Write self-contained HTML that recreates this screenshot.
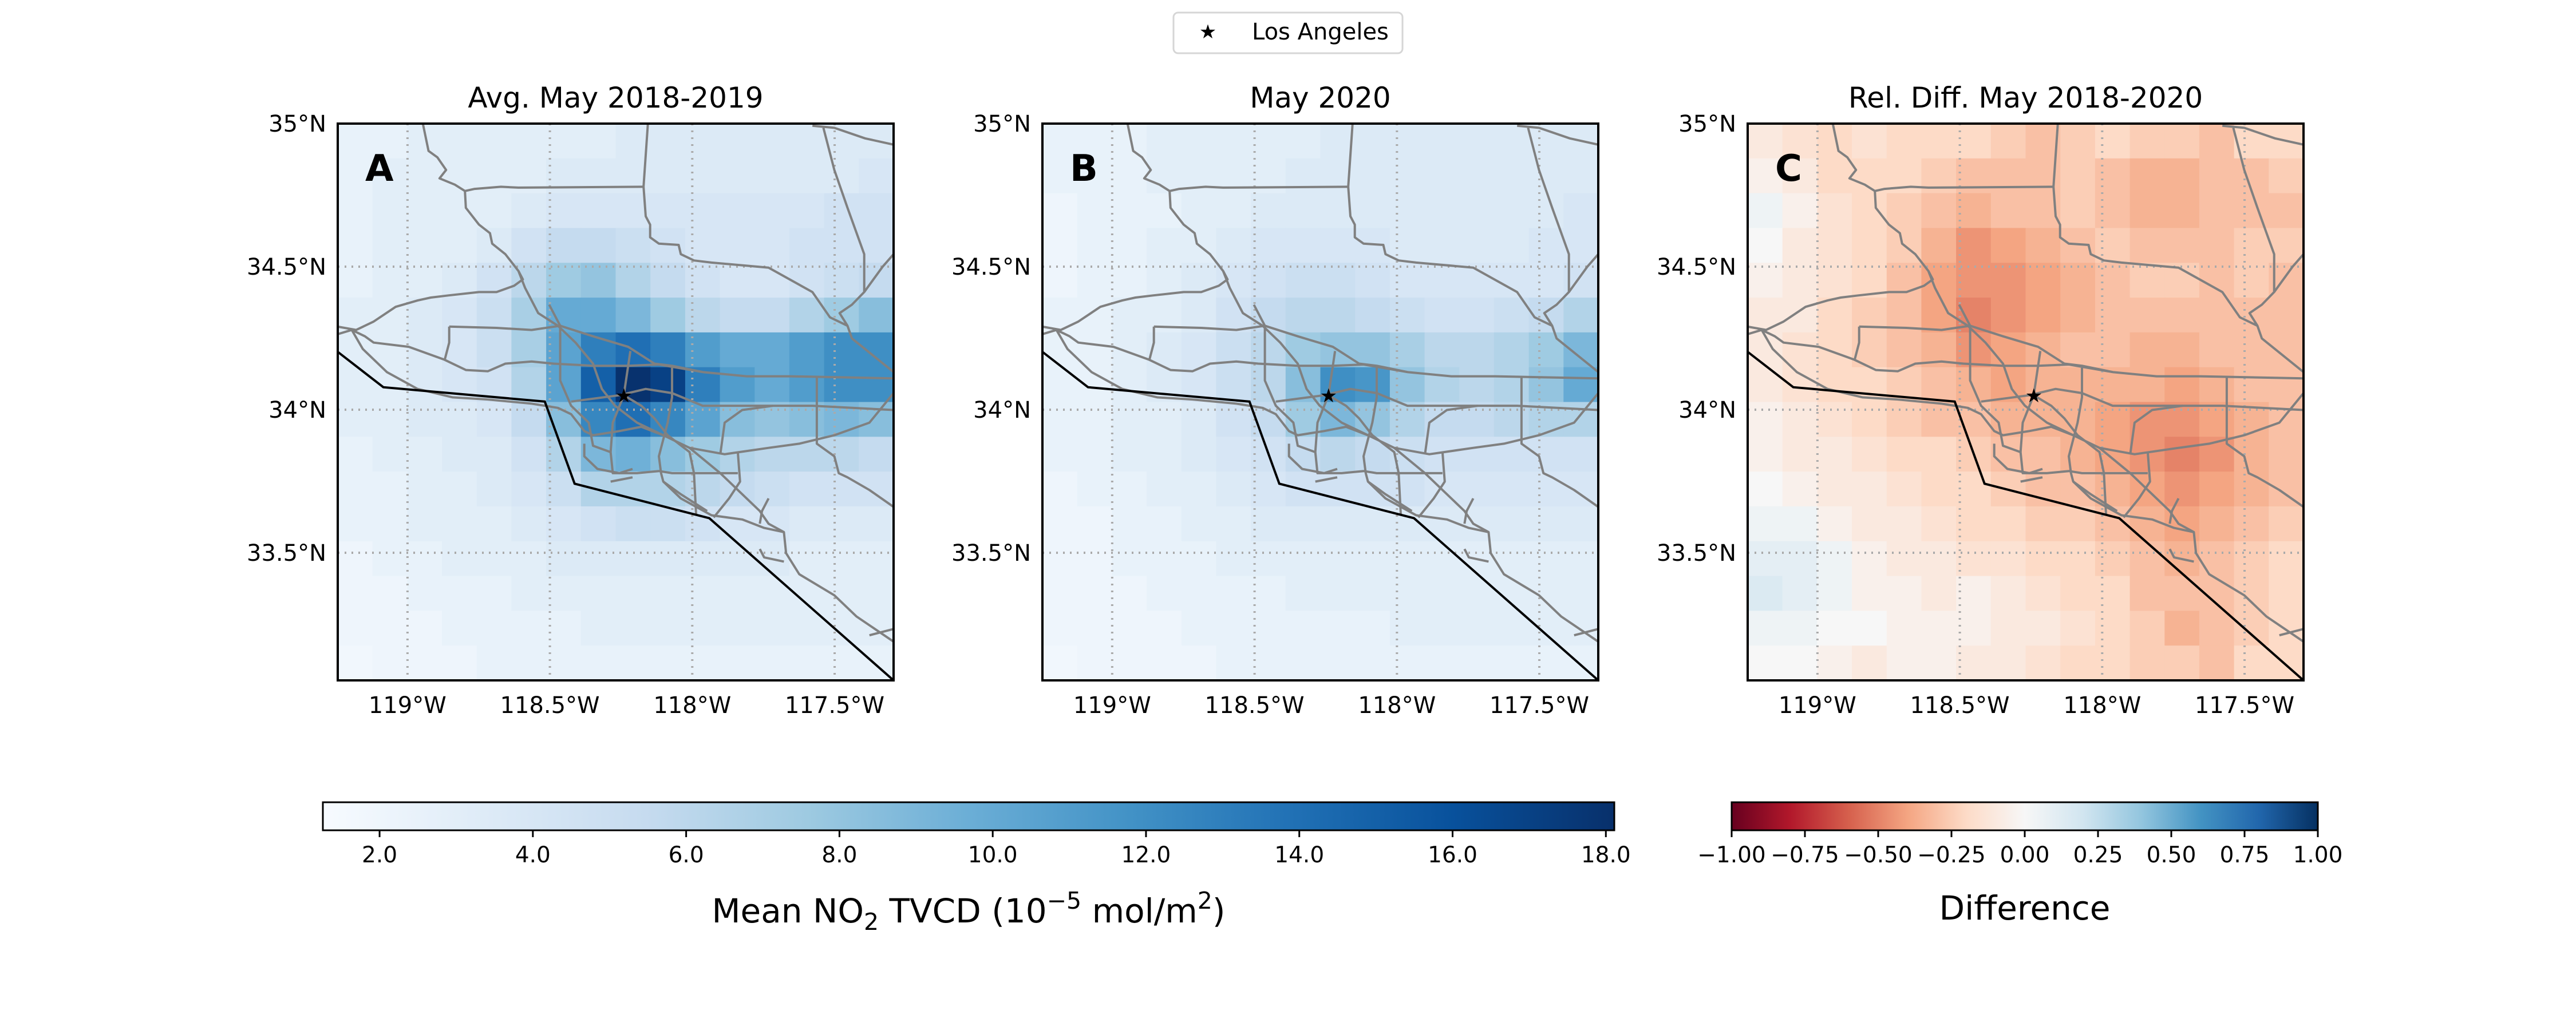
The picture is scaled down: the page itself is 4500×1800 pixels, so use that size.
<!DOCTYPE html>
<html><head><meta charset="utf-8">
<style>
html,body{margin:0;padding:0;background:#fff;}
svg{display:block;font-family:"DejaVu Sans","Liberation Sans",sans-serif;}
</style></head>
<body>
<svg id="fig" xmlns="http://www.w3.org/2000/svg" width="4500" height="1800" viewBox="0 0 4500 1800">
<rect width="4500" height="1800" fill="#fff"/>
<g id="legend">
  <rect x="2050" y="22" width="400" height="71" rx="8" fill="#fff" stroke="#d6d6d6" stroke-width="3"/>
  <text x="2110" y="67" font-size="34" text-anchor="middle">★</text>
  <text x="2187" y="69" font-size="40">Los Angeles</text>
</g>
<g id="panels"></g>
<g id="cbars"></g>
</svg>
<script>
// ---- data ----
const extentLon = [-119.245, -117.293];
const extentLat = [33.054, 35.0];
const lonTicks = [-119, -118.5, -118, -117.5];
const lonTickLabels = ["119°W", "118.5°W", "118°W", "117.5°W"];
const latTicks = [35, 34.5, 34, 33.5];
const latTickLabels = ["35°N", "34.5°N", "34°N", "33.5°N"];
const laLon = -118.24, laLat = 34.05;
const panelTitles = ["Avg. May 2018-2019", "May 2020", "Rel. Diff. May 2018-2020"];
const panelLetters = ["A", "B", "C"];
const no2Ticks = [2, 4, 6, 8, 10, 12, 14, 16, 18];
const no2TickLabels = ["2.0","4.0","6.0","8.0","10.0","12.0","14.0","16.0","18.0"];
const diffTicks = [-1, -0.75, -0.5, -0.25, 0, 0.25, 0.5, 0.75, 1];
const diffTickLabels = ["\u22121.00","\u22120.75","\u22120.50","\u22120.25","0.00","0.25","0.50","0.75","1.00"];
const no2Range = [1.26, 18.11];
const diffRange = [-1, 1];

const gridA = [
[2.5,2.5,3,3,3,3,3,3,3.5,3.5,3.5,3.5,3.5,3.5,3.5,3.5],
[2.5,3,3,3,3,3,3.5,3.5,3.5,3.5,3.5,3.5,3.5,3.5,3.5,4],
[2.5,3,3,3,3,3.5,4,4,4,4,4,4,4,4,4.5,4.5],
[2.5,3,3,3,3.5,4.5,5.5,5.5,5,4.5,4,4,4,4.5,4.5,4.5],
[2.5,3,3,3.5,4.5,6,7.5,8,6.5,5.5,4.5,4,4,4.5,5,5.5],
[3,3,3.5,4,5,7,10,10,9,7.5,6,5.5,5.5,6.5,7.5,8.5],
[3,3,3.5,4,5,7,10.5,13,14,13,11,10,10,11,12,12],
[3,3,3.5,4,4.5,6.5,10.5,15,18,17,13,11,10,11,12,12],
[3,3,3.5,3.5,4,5.5,8.5,12.5,14,12.5,10.5,8.5,8,8.5,9,8.5],
[2.5,3,3,3.5,3.5,4.5,6.5,9,9.5,8.5,7.5,6.5,6,6,6,5.5],
[2.5,2.5,3,3,3.5,4,5,6.5,6.5,6.5,6,5.5,5,4.5,4.5,4.5],
[2.5,2.5,3,3,3,3.5,4,4.5,5,5,4.5,4,4,3.5,3.5,3.5],
[2,2.5,2.5,3,3,3,3.5,3.5,3.5,3.5,3.5,3.5,3.5,3,3,3],
[2,2,2.5,2.5,2.5,3,3,3,3,3,3,3,3,3,3,3],
[2,2,2,2.5,2.5,2.5,2.5,3,3,3,3,3,3,3,3,3],
[1.8,2,2,2,2.5,2.5,2.5,2.5,2.5,2.5,2.5,2.5,2.5,2.5,2.5,2.5]];
const gridB = [
[2.5,2.5,2.5,3,3,3,3,3,3.5,3.5,3.5,3.5,3.5,3.5,3.5,3.5],
[2.5,2.5,2.5,3,3,3,3,3.5,3.5,3.5,3.5,3.5,3.5,3.5,3.5,3.5],
[2,2.5,2.5,2.5,3,3,3.5,3.5,3.5,3.5,3.5,3.5,3.5,3.5,3.5,4],
[2,2.5,2.5,3,3,3.5,4,4,4,4,3.5,3.5,3.5,3.5,4,4],
[2,2.5,2.5,3,3.5,4,4.5,5,5,4.5,4,4,4,4,4,4.5],
[2.5,2.5,3,3,3.5,4.5,5.5,6,6,5.5,5,4.5,4.5,5,5.5,6.5],
[2.5,2.5,3,3.5,4,5,6,7.5,8,8,7,6,6,6.5,7.5,9],
[2.5,2.5,3,3.5,4,5,6,8.5,12,11.5,8,6.5,6,6.5,8,10],
[2.5,2.5,3,3,3.5,4.5,5.5,7.5,9,8,6.5,5.5,5.5,6,6.5,6.5],
[2.5,2.5,3,3,3.5,4,4.5,5.5,6,5.5,5,4.5,4.5,4.5,4.5,4.5],
[2,2.5,2.5,3,3,3.5,4,4.5,4.5,4.5,4.5,4,4,4,4,4],
[2,2,2.5,2.5,3,3,3.5,3.5,3.5,3.5,3.5,3.5,3.5,3.5,3.5,3.5],
[2,2,2.5,2.5,2.5,3,3,3,3,3,3,3,3,3,3,3],
[2,2,2,2.5,2.5,2.5,2.5,3,3,3,3,3,3,3,3,3],
[2,2,2,2,2.5,2.5,2.5,2.5,2.5,2.5,3,3,3,3,3,3],
[1.8,2,2,2,2,2.5,2.5,2.5,2.5,2.5,2.5,2.5,2.5,2.5,2.5,2.5]];
const gridC = [
[-.1,-.15,-.2,-.15,-.2,-.2,-.2,-.25,-.3,-.25,-.2,-.25,-.25,-.3,-.2,-.2],
[-.05,-.1,-.2,-.2,-.2,-.25,-.3,-.3,-.3,-.25,-.3,-.35,-.35,-.3,-.3,-.25],
[.05,-.05,-.15,-.2,-.25,-.3,-.35,-.3,-.3,-.25,-.3,-.35,-.35,-.3,-.3,-.3],
[0,-.1,-.15,-.2,-.25,-.35,-.45,-.4,-.35,-.3,-.25,-.3,-.3,-.3,-.25,-.25],
[-.05,-.1,-.15,-.2,-.3,-.4,-.45,-.45,-.4,-.35,-.3,-.25,-.25,-.3,-.25,-.3],
[-.1,-.1,-.2,-.25,-.3,-.4,-.5,-.45,-.4,-.35,-.3,-.3,-.3,-.3,-.3,-.3],
[-.1,-.15,-.2,-.25,-.3,-.35,-.45,-.4,-.35,-.3,-.3,-.35,-.35,-.3,-.3,-.3],
[-.1,-.15,-.2,-.2,-.25,-.3,-.35,-.4,-.35,-.35,-.35,-.35,-.4,-.35,-.3,-.3],
[-.05,-.1,-.15,-.2,-.25,-.3,-.3,-.35,-.35,-.35,-.4,-.45,-.45,-.4,-.35,-.3],
[-.05,-.1,-.1,-.15,-.2,-.2,-.25,-.3,-.3,-.35,-.4,-.45,-.5,-.45,-.35,-.3],
[0,-.05,-.1,-.1,-.15,-.2,-.2,-.25,-.3,-.3,-.35,-.4,-.45,-.4,-.35,-.3],
[.05,.05,-.05,-.1,-.1,-.15,-.2,-.2,-.25,-.25,-.3,-.35,-.4,-.35,-.3,-.25],
[.1,.1,.05,-.05,-.1,-.1,-.15,-.15,-.2,-.2,-.25,-.3,-.35,-.3,-.25,-.2],
[.15,.1,.05,-.05,-.05,-.1,-.05,-.1,-.15,-.2,-.2,-.3,-.3,-.3,-.25,-.2],
[.05,.05,0,0,-.05,-.05,-.05,-.1,-.1,-.15,-.2,-.25,-.35,-.3,-.25,-.2],
[0,0,-.05,-.1,-.05,-.05,-.1,-.1,-.15,-.2,-.2,-.25,-.25,-.3,-.2,-.2]];

// geographic overlays (reference-image coords: x in 118..1385, y in 90..1412)
const coastline = [[118,632],[222,716],[590,750],[658,945],[965,1027],[1385,1412]];
const roads = [
[[312,90],[325,155],[345,170],[365,200],[350,220],[385,235],[408,250],[410,290],[440,330],[465,350],[470,375],[500,400],[530,440],[545,480],[575,540],[620,570],[660,610],[700,660],[720,720],[750,760],[800,800],[860,830],[920,860],[1000,875],[1100,860],[1170,850],[1250,830],[1330,800],[1385,730]],
[[408,250],[430,245],[490,240],[530,242],[815,240]],
[[825,90],[815,240],[820,310],[830,330],[830,360],[850,375],[895,378],[900,400],[930,415],[970,420],[1100,432],[1200,490],[1240,550],[1280,570],[1290,600],[1385,680]],
[[1200,95],[1250,100],[1320,125],[1385,140]],
[[1225,100],[1250,200],[1280,290],[1318,400],[1318,490],[1290,520],[1262,540],[1280,570]],
[[1385,400],[1360,430],[1318,490]],
[[118,572],[160,580],[200,560],[250,525],[300,510],[330,503],[370,498],[440,490],[480,490],[520,475],[540,460],[530,440]],
[[118,590],[150,580],[180,595],[200,610],[280,620],[360,650],[410,675],[460,678],[500,660],[560,655],[610,660],[700,665],[780,665],[850,662],[950,680],[1050,690],[1150,690],[1385,695]],
[[372,572],[480,575],[560,580],[625,570],[700,595],[780,620],[840,660],[880,665],[950,680]],
[[150,580],[175,625],[230,680],[300,720],[380,740],[460,745],[560,755],[620,765],[650,780],[680,820],[700,830],[760,820],[810,810],[860,830]],
[[372,572],[372,610],[362,650]],
[[600,520],[625,570],[625,650],[625,700],[650,760],[690,800],[700,855],[740,870]],
[[650,750],[760,735],[820,720],[880,730],[950,760],[1010,760],[1080,760],[1200,760],[1385,770]],
[[785,630],[770,735],[745,800],[740,870],[745,920],[760,920],[790,910]],
[[770,735],[810,760],[840,790],[870,830],[920,870],[930,920],[935,1020]],
[[880,670],[880,740],[870,800],[850,880],[855,920],[860,940],[900,970],[960,1010]],
[[680,850],[680,880],[710,910],[760,920],[800,920],[850,915],[880,920],[1030,920]],
[[920,860],[990,920],[1030,960],[1080,1010],[1100,1040],[1135,1060],[1140,1110],[1170,1160],[1250,1210],[1300,1260],[1385,1320]],
[[1030,870],[1035,940],[1010,980],[975,1025]],
[[860,940],[900,980],[970,1020],[1040,1030],[1090,1050],[1135,1060]],
[[990,875],[1000,800],[1040,770],[1110,760]],
[[1210,690],[1210,850],[1250,880],[1260,920],[1280,930],[1330,960],[1385,1000]],
[[1385,1290],[1330,1305]],
[[1080,1040],[1085,1010],[1100,980]],
[[740,940],[790,930]],
[[1135,1130],[1090,1120],[1080,1100]]];

// ---- rendering ----
const NS = "http://www.w3.org/2000/svg";
function mk(tag, attrs, parent){const e=document.createElementNS(NS,tag);for(const k in attrs)e.setAttribute(k,attrs[k]);if(parent)parent.appendChild(e);return e;}
const blues = ["#f7fbff","#deebf7","#c6dbef","#9ecae1","#6baed6","#4292c6","#2171b5","#08519c","#08306b"];
const rdbu = ["#67001f","#b2182b","#d6604d","#f4a582","#fddbc7","#f7f7f7","#d1e5f0","#92c5de","#4393c3","#2166ac","#053061"];
function hex(c){return [1,3,5].map(i=>parseInt(c.substr(i,2),16));}
function cmap(stops,t){t=Math.max(0,Math.min(1,t));const n=stops.length-1;const i=Math.min(n-1,Math.floor(t*n));const f=t*n-i;const a=hex(stops[i]),b=hex(stops[i+1]);return "rgb("+a.map((v,k)=>Math.round(v+(b[k]-v)*f)).join(",")+")";}

const panelX = [590, 1821, 3053];
const PY = 216, PW = 971, PH = 973;
const grids = [gridA, gridB, gridC];
const panelsG = document.getElementById("panels");
const names = ["avg-2018-2019","may-2020","rel-diff"];

panelX.forEach((px, p) => {
  const g = mk("g", {}, panelsG);
  
  
  const xLon = lon => px + (lon - extentLon[0]) / (extentLon[1] - extentLon[0]) * PW;
  const yLat = lat => PY + (extentLat[1] - lat) / (extentLat[1] - extentLat[0]) * PH;
  const fx = zx => px + (zx - 118) / 1267 * PW;
  const fy = zy => PY + (zy - 90) / 1322 * PH;
  const clipId = "clip" + p;
  const cp = mk("clipPath", {id: clipId}, g);
  mk("rect", {x: px, y: PY, width: PW, height: PH}, cp);
  const grid = grids[p];
  const rows = grid.length, cols = grid[0].length;
  const cw = PW / cols, ch = PH / rows;
  const hm = mk("g", {}, g);
  
  
  grid.forEach((row, r) => row.forEach((v, c) => {
    const t = p < 2 ? (v - no2Range[0]) / (no2Range[1] - no2Range[0]) : (v - diffRange[0]) / (diffRange[1] - diffRange[0]);
    const cell = mk("rect", {x: (px + c * cw).toFixed(1), y: (PY + r * ch).toFixed(1), width: (cw + 0.8).toFixed(1), height: (ch + 0.8).toFixed(1), fill: cmap(p < 2 ? blues : rdbu, t)}, hm);
    
    
  }));
  lonTicks.forEach(l => mk("line", {x1: xLon(l), x2: xLon(l), y1: PY, y2: PY + PH, stroke: "#aaa", "stroke-width": 4, "stroke-dasharray": "3 9"}, g));
  latTicks.slice(1).forEach(l => mk("line", {x1: px, x2: px + PW, y1: yLat(l), y2: yLat(l), stroke: "#aaa", "stroke-width": 4, "stroke-dasharray": "3 9"}, g));
  const ov = mk("g", {"clip-path": "url(#" + clipId + ")"}, g);
  roads.forEach(rd => {
    const pl = mk("polyline", {points: rd.map(q => fx(q[0]).toFixed(1) + "," + fy(q[1]).toFixed(1)).join(" "), fill: "none", stroke: "#808080", "stroke-width": 4, "stroke-linejoin": "round"}, ov);
    
    
  });
  const cl = mk("polyline", {points: coastline.map(q => fx(q[0]).toFixed(1) + "," + fy(q[1]).toFixed(1)).join(" "), fill: "none", stroke: "#000", "stroke-width": 4}, ov);
  
  
  const st = mk("text", {x: xLon(laLon), y: yLat(laLat) + 12, "font-size": 34, "text-anchor": "middle"}, g);
  st.textContent = "★";
  
  
  mk("rect", {x: px, y: PY, width: PW, height: PH, fill: "none", stroke: "#000", "stroke-width": 4}, g);
  const tt = mk("text", {x: px + PW / 2, y: 188, "font-size": 50, "text-anchor": "middle"}, g);
  tt.textContent = panelTitles[p];
  
  
  const lt = mk("text", {x: px + 48, y: 316, "font-size": 64, "font-weight": "bold"}, g);
  lt.textContent = panelLetters[p];
  
  
  lonTicks.forEach((l, i) => {
    const t = mk("text", {x: xLon(l), y: 1246, "font-size": 40, "text-anchor": "middle"}, g);
    t.textContent = lonTickLabels[i];
    
    
  });
  latTicks.forEach((l, i) => {
    const t = mk("text", {x: px - 20, y: yLat(l) + 14, "font-size": 40, "text-anchor": "end"}, g);
    t.textContent = latTickLabels[i];
    
    
  });
});

// colorbars
const cb = document.getElementById("cbars");
const defs = mk("defs", {}, cb);
function grad(id, stops){const lg = mk("linearGradient", {id: id, x1: 0, x2: 1, y1: 0, y2: 0}, defs); stops.forEach((c, i) => mk("stop", {offset: i / (stops.length - 1), "stop-color": c}, lg));}
grad("gBlues", blues); grad("gRdBu", rdbu);
function colorbar(x0, x1, range, ticks, labels, gid, nm){
  const g = mk("g", {}, cb);
  
  
  const Y = 1402, H = 49;
  mk("rect", {x: x0, y: Y, width: x1 - x0, height: H, fill: "url(#" + gid + ")", stroke: "#000", "stroke-width": 3}, g);
  const sx = v => x0 + (v - range[0]) / (range[1] - range[0]) * (x1 - x0);
  ticks.forEach((v, i) => {
    mk("line", {x1: sx(v), x2: sx(v), y1: Y + H, y2: Y + H + 12, stroke: "#000", "stroke-width": 3}, g);
    const t = mk("text", {x: sx(v), y: Y + H + 56, "font-size": 39, "text-anchor": "middle"}, g);
    t.textContent = labels[i];
    
    
  });
  return g;
}
const g1 = colorbar(564, 2820, no2Range, no2Ticks, no2TickLabels, "gBlues", "no2-colorbar");
const l1 = mk("text", {x: 1692, y: 1612, "font-size": 58, "text-anchor": "middle"}, g1);
l1.innerHTML = 'Mean NO<tspan font-size="41" dy="13">2</tspan><tspan dy="-13"> TVCD (10</tspan><tspan font-size="41" dy="-24">\u22125</tspan><tspan dy="24"> mol/m</tspan><tspan font-size="41" dy="-24">2</tspan><tspan dy="24">)</tspan>';


const g2 = colorbar(3025, 4049, diffRange, diffTicks, diffTickLabels, "gRdBu", "difference-colorbar");
const l2 = mk("text", {x: 3537, y: 1607, "font-size": 58, "text-anchor": "middle"}, g2);
l2.textContent = "Difference";


</script>
</body></html>
